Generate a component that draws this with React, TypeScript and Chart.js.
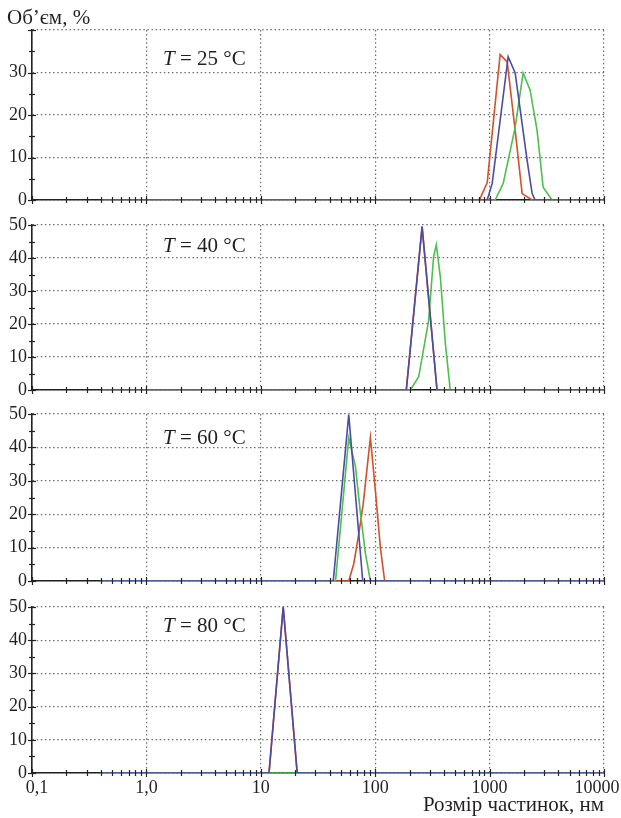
import React, { useEffect, useRef } from 'react';
import { Chart, registerables } from 'chart.js';

Chart.register(...registerables);

// ---------- data ----------
const SIZE_TICKS = [0.1, 1, 10, 100, 1000, 10000];
const SIZE_TICK_LABELS = ['0,1', '1,0', '10', '100', '1000', '10000'];
const TEMPERATURES = ['25', '40', '60', '80'];
const Y_MAX = [40, 50, 50, 50];
const Y_LABEL_MAX = [30, 50, 50, 50];
const Y_TITLE = 'Об’єм, %';
const X_TITLE = 'Розмір частинок, нм';

// [size nm, volume %]
const t25Blue = [[0.4, 0], [953, 0], [1054, 3.9], [1453, 33.7], [1673, 29.9], [2128, 9.3], [2355, 1.5], [2500, 0], [10000, 0]];
const t25Green = [[0.4, 0], [1119, 0], [1315, 3.9], [1673, 17.1], [1963, 29.9], [2259, 25.9], [2600, 16.4], [2937, 3], [3516, 0], [10000, 0]];
const t25Red = [[0.4, 0], [800, 0], [828, 0.4], [953, 4.1], [1236, 34.2], [1425, 32.5], [1673, 16.4], [1925, 1.5], [2355, 0], [10000, 0]];

const t40Blue = [[0.4, 0], [187, 0], [257, 49.5], [347, 0], [10000, 0]];
const t40Green = [[0.4, 0], [203, 0], [240, 4], [293, 21], [324, 40.4], [342, 44], [371, 34.3], [410, 14.2], [453, 0], [10000, 0]];
const t40Red = [[0.4, 0], [187, 0], [257, 49.5], [347, 0], [10000, 0]];

const t60Blue = [[0.4, 0], [43, 0], [58.7, 49.8], [77.8, 0], [10000, 0]];
const t60Green = [[0.4, 0], [45, 0], [58.7, 42.8], [67.2, 34.3], [74.3, 20.3], [82, 8.4], [90.8, 0], [10000, 0]];
const t60Red = [[0.4, 0], [58.7, 0], [64.9, 5.1], [71.8, 14], [78.5, 23], [90.8, 43], [100.4, 27], [111, 10], [121, 0], [10000, 0]];

const t80Blue = [[0.4, 0], [11.8, 0], [15.7, 50], [20.8, 0], [10000, 0]];
const t80Green = [[0.4, 0], [10000, 0]];
const t80Red = [[0.4, 0], [11.8, 0], [15.7, 50], [20.8, 0], [10000, 0]];

const PANEL_SERIES = [
  [t25Blue, t25Green, t25Red],
  [t40Blue, t40Green, t40Red],
  [t60Blue, t60Green, t60Red],
  [t80Blue, t80Green, t80Red],
];

// ---------- styles ----------
const W = 621;
const H = 818;
const PLOT_LEFT = 32;
const PLOT_RIGHT = 604;
const PANEL_TOPS = [30, 225, 414, 607];
const PANEL_BOTTOMS = [200, 390, 581, 773];
const LABEL_OFFSETS = [35, 27, 30, 25];
const SERIES_COLORS = ['#4b4ba6', '#4cc04c', '#d4502b'];
const AXIS_COLOR = '#222';
const GRID_COLOR = '#6e6e6e';
const TEXT_COLOR = '#231f20';
const FONT = '"Liberation Serif", "DejaVu Serif", serif';

function line(ctx: CanvasRenderingContext2D, x1: number, y1: number, x2: number, y2: number) {
  ctx.beginPath();
  ctx.moveTo(x1, y1);
  ctx.lineTo(x2, y2);
  ctx.stroke();
}

function makeDecor(p: number) {
  return {
    id: 'decor' + p,
    afterDraw(chart: any) {
      const { ctx, chartArea, scales } = chart;
      const xs = scales.x;
      const ys = scales.y;
      ctx.save();
      ctx.strokeStyle = AXIS_COLOR;
      ctx.lineWidth = 1.2;
      // y ticks (major every 10, minor every 5)
      for (let v = 0; v <= Y_MAX[p]; v += 5) {
        const py = Math.round(ys.getPixelForValue(v)) + 0.5;
        const len = v % 10 === 0 ? 4 : 3;
        line(ctx, chartArea.left - len, py, chartArea.left + len, py);
      }
      // x ticks (log minor)
      for (let i = 0; i < SIZE_TICKS.length; i++) {
        const d = SIZE_TICKS[i];
        const pxMaj = Math.round(xs.getPixelForValue(d)) + 0.5;
        line(ctx, pxMaj, chartArea.bottom - 4, pxMaj, chartArea.bottom + 4);
        if (i === SIZE_TICKS.length - 1) break;
        for (let k = 2; k <= 9; k++) {
          const px = Math.round(xs.getPixelForValue(k * d)) + 0.5;
          line(ctx, px, chartArea.bottom - 3, px, chartArea.bottom + 3);
        }
      }
      // temperature label
      ctx.fillStyle = TEXT_COLOR;
      ctx.textBaseline = 'alphabetic';
      ctx.textAlign = 'left';
      const lx = 163;
      const ly = chartArea.top + LABEL_OFFSETS[p];
      ctx.font = 'italic 21px ' + FONT;
      ctx.fillText('T', lx, ly);
      const tw = ctx.measureText('T').width;
      ctx.font = '21px ' + FONT;
      ctx.fillText(' = ' + TEMPERATURES[p] + ' °C', lx + tw, ly);
      if (p === 0) {
        ctx.font = '21px ' + FONT;
        ctx.fillText(Y_TITLE, chartArea.left - 25, chartArea.top - 6);
      }
      if (p === 3) {
        ctx.font = '18px ' + FONT;
        for (let i = 0; i < SIZE_TICKS.length; i++) {
          const px = xs.getPixelForValue(SIZE_TICKS[i]);
          let tx = px;
          ctx.textAlign = 'center';
          if (i === 0) tx = px + 5;
          if (i === SIZE_TICKS.length - 1) tx = px - 7;
          ctx.fillText(SIZE_TICK_LABELS[i], tx, chartArea.bottom + 20);
        }
        ctx.font = '21px ' + FONT;
        ctx.textAlign = 'right';
        ctx.fillText(X_TITLE, chartArea.right, chartArea.bottom + 38);
      }
      ctx.restore();
    },
  };
}

function Panel({ p }: { p: number }) {
  const ref = useRef<HTMLCanvasElement>(null);
  useEffect(() => {
    if (!ref.current) return;
    const chart = new Chart(ref.current, {
      type: 'line',
      data: {
        datasets: PANEL_SERIES[p].map((s, i) => ({
          data: s.map(([x, y]) => ({ x, y })),
          borderColor: SERIES_COLORS[i],
          backgroundColor: SERIES_COLORS[i],
          borderWidth: 1.6,
          pointRadius: 0,
          tension: 0,
          fill: false,
        })),
      },
      options: {
        responsive: false,
        animation: false,
        devicePixelRatio: 1,
        events: [],
        layout: {
          padding: { left: 0, right: W - PLOT_RIGHT, top: PANEL_TOPS[p], bottom: H - PANEL_BOTTOMS[p] },
        },
        plugins: { legend: { display: false }, tooltip: { enabled: false }, title: { display: false } },
        scales: {
          x: {
            type: 'logarithmic',
            min: 0.1,
            max: 10000,
            afterBuildTicks: (scale: any) => {
              scale.ticks = SIZE_TICKS.map((v) => ({ value: v }));
            },
            afterFit: (scale: any) => {
              scale.height = 0;
              scale.paddingLeft = 0;
              scale.paddingRight = 0;
            },
            ticks: { display: false },
            grid: { color: GRID_COLOR, lineWidth: 1.2, drawTicks: false },
            border: { display: true, color: AXIS_COLOR, width: 1.6, dash: [1.5, 2.6] },
          },
          y: {
            type: 'linear',
            min: 0,
            max: Y_MAX[p],
            afterFit: (scale: any) => {
              scale.width = PLOT_LEFT;
              scale.paddingTop = 0;
              scale.paddingBottom = 0;
            },
            ticks: {
              stepSize: 10,
              padding: 5,
              color: TEXT_COLOR,
              font: { family: FONT, size: 18 },
              callback: (v: any) => (Number(v) <= Y_LABEL_MAX[p] ? String(v) : ''),
            },
            grid: { color: GRID_COLOR, lineWidth: 1.2, drawTicks: false },
            border: { display: true, color: AXIS_COLOR, width: 1.6, dash: [1.5, 2.6] },
          },
        },
      },
      plugins: [makeDecor(p)],
    } as any);
    return () => chart.destroy();
  }, [p]);
  return (
    <canvas
      ref={ref}
      width={W}
      height={H}
      style={{ position: 'absolute', left: 0, top: 0, width: W, height: H, display: 'block' }}
    />
  );
}

export default function App() {
  return (
    <div style={{ position: 'absolute', left: 0, top: 0, width: W, height: H, overflow: 'hidden', background: '#fff' }}>
      {TEMPERATURES.map((_, p) => (
        <Panel key={p} p={p} />
      ))}
    </div>
  );
}
